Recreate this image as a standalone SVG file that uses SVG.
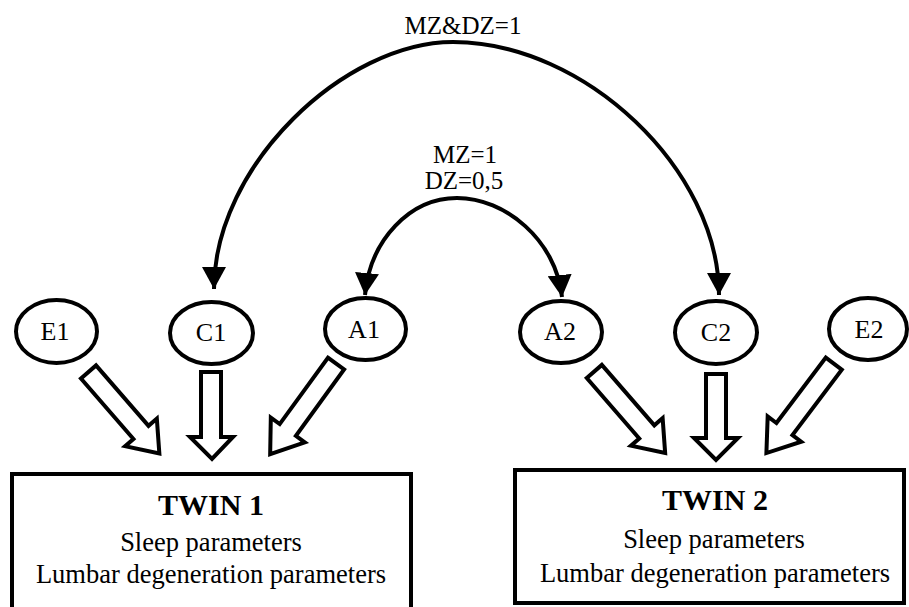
<svg xmlns="http://www.w3.org/2000/svg" width="909" height="607" viewBox="0 0 909 607">
<style>
  .lbl { font-family: "Liberation Serif", "Times New Roman", serif; fill: #000; text-anchor: middle; }
  .node ellipse { fill: #fff; stroke: #000; stroke-width: 4; }
  .box rect { fill: #fff; stroke: #000; stroke-width: 4; }
  .arc { fill: none; stroke: #000; stroke-width: 4; }
  .fat { fill: #fff; stroke: #000; stroke-width: 4; stroke-linejoin: miter; stroke-miterlimit: 10; }
</style>
<defs>
  <marker id="ah" viewBox="0 0 22 24" refX="22" refY="12" markerWidth="22" markerHeight="24" markerUnits="userSpaceOnUse" orient="auto-start-reverse">
    <path d="M0,0 L22,12 L0,24 Z" fill="#000"/>
  </marker>
</defs>
<rect width="909" height="607" fill="#fff"/>

<g id="connectors">
  <path class="arc" d="M214 289 C214 165 345 42 453 42 C585 42 719 170 719 295" marker-start="url(#ah)" marker-end="url(#ah)"/>
  <path class="arc" d="M365 295 C370 240 410 198 457 198 C505 198 556 240 562 297" marker-start="url(#ah)" marker-end="url(#ah)"/>
  <!-- fat arrows twin 1 -->
  <polygon class="fat" transform="translate(88.5 372) rotate(-41)" points="-10,0 10,0 10,80 21,80 0,108 -21,80 -10,80"/>
  <polygon class="fat" points="201,372 221,372 221,437 233,437 212,459 190,437 201,437"/>
  <polygon class="fat" transform="translate(336 363.6) rotate(36)" points="-10,0 10,0 10,82 21,82 0,112 -21,82 -10,82"/>
  <!-- fat arrows twin 2 -->
  <polygon class="fat" transform="translate(594.3 371.5) rotate(-41)" points="-10,0 10,0 10,80 21,80 0,108 -21,80 -10,80"/>
  <polygon class="fat" points="706,374 726,374 726,438 738,438 716,460 694,438 706,438"/>
  <polygon class="fat" transform="translate(833.8 363.6) rotate(37)" points="-10,0 10,0 10,82 21,82 0,112 -21,82 -10,82"/>
  <text class="lbl" x="463" y="34" font-size="25">MZ&amp;DZ=1</text>
  <text class="lbl" x="465" y="163" font-size="25">MZ=1</text>
  <text class="lbl" x="464" y="189" font-size="25">DZ=0,5</text>
</g>

<g id="E1" class="node"><ellipse cx="56.5" cy="331.5" rx="40.5" ry="31.5"/><text class="lbl" x="55" y="340" font-size="26">E1</text></g>
<g id="C1" class="node"><ellipse cx="211.5" cy="333" rx="41.5" ry="31"/><text class="lbl" x="211" y="341" font-size="26">C1</text></g>
<g id="A1" class="node"><ellipse cx="365.5" cy="329" rx="40.5" ry="31"/><text class="lbl" x="364" y="338" font-size="26">A1</text></g>
<g id="A2" class="node"><ellipse cx="561" cy="332" rx="41" ry="31"/><text class="lbl" x="560" y="340" font-size="26">A2</text></g>
<g id="C2" class="node"><ellipse cx="716" cy="332.5" rx="41" ry="31.5"/><text class="lbl" x="716" y="341" font-size="26">C2</text></g>
<g id="E2" class="node"><ellipse cx="868" cy="329" rx="39" ry="31"/><text class="lbl" x="869" y="338" font-size="26">E2</text></g>

<g id="TWIN1" class="box">
  <rect x="12" y="474" width="399" height="150"/>
  <text class="lbl" x="211" y="515" font-size="30" font-weight="bold">TWIN 1</text>
  <text class="lbl" x="211" y="551" font-size="26.5">Sleep parameters</text>
  <text class="lbl" x="211" y="583" font-size="26.5">Lumbar degeneration parameters</text>
</g>
<g id="TWIN2" class="box">
  <rect x="515" y="470" width="389" height="133"/>
  <text class="lbl" x="715" y="510" font-size="30" font-weight="bold">TWIN 2</text>
  <text class="lbl" x="714" y="548" font-size="26.5">Sleep parameters</text>
  <text class="lbl" x="715" y="582" font-size="26.5">Lumbar degeneration parameters</text>
</g>
</svg>
